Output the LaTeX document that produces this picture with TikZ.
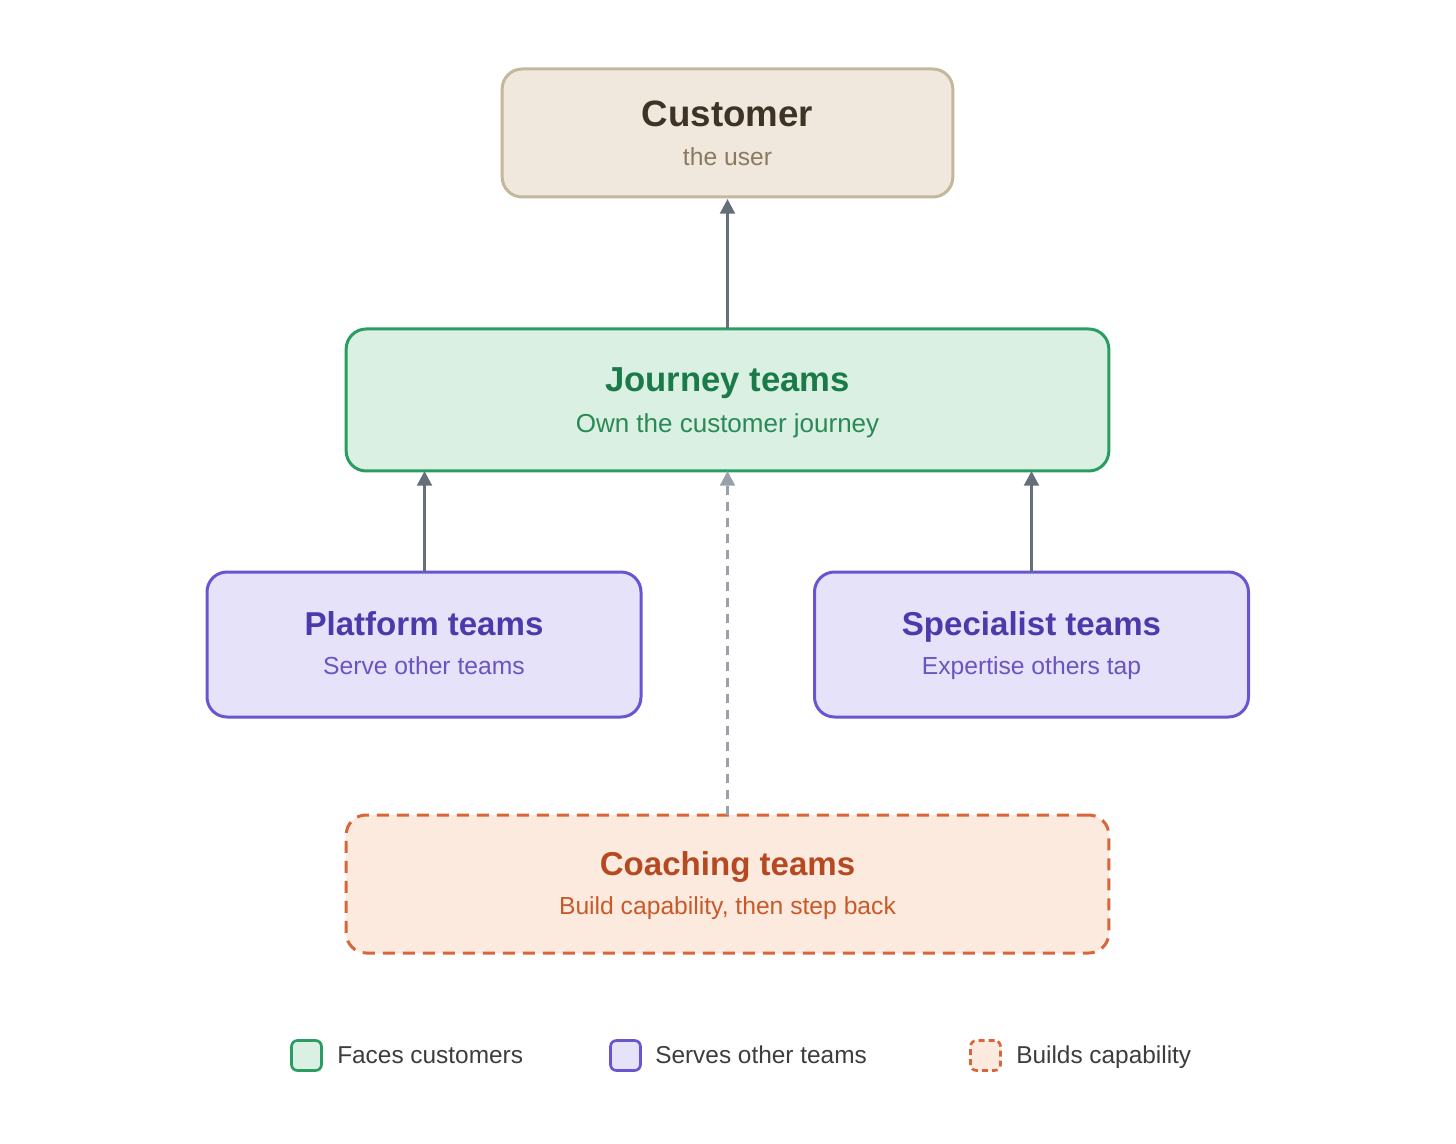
\documentclass[tikz,border=0pt]{standalone}
\usepackage{fontspec}
\setmainfont{Liberation Sans}
\usetikzlibrary{arrows.meta}
\definecolor{custfill}{HTML}{F0E8DC}
\definecolor{custdraw}{HTML}{C4B89C}
\definecolor{custtitle}{HTML}{3D3426}
\definecolor{custsub}{HTML}{8A7A62}
\definecolor{jfill}{HTML}{DAF0E2}
\definecolor{jdraw}{HTML}{2A9D63}
\definecolor{jtitle}{HTML}{1A7A48}
\definecolor{jsub}{HTML}{2A8A55}
\definecolor{pfill}{HTML}{E6E2FA}
\definecolor{pdraw}{HTML}{6A55D0}
\definecolor{ptitle}{HTML}{4A3AAA}
\definecolor{psub}{HTML}{6A55C0}
\definecolor{cfill}{HTML}{FCEADF}
\definecolor{cdraw}{HTML}{D9663A}
\definecolor{ctitle}{HTML}{B54A22}
\definecolor{csub}{HTML}{C85A2A}
\definecolor{arrowc}{HTML}{666E7A}
\definecolor{arrowl}{HTML}{9AA0A8}
\definecolor{legtext}{HTML}{3D3D3D}
\begin{document}
\begin{tikzpicture}[x=0.75pt,y=-0.75pt,
  box/.style={rectangle,rounded corners=15pt,line width=2.25pt,inner sep=0pt},
  title/.style={font=\bfseries\fontsize{24.8}{30}\selectfont,inner sep=0pt,anchor=base},
  sub/.style={font=\fontsize{18.5}{22}\selectfont,inner sep=0pt,anchor=base},
  conn/.style={line width=2.25pt,draw=arrowc,-{Triangle[length=11pt,width=11pt]}},
  connd/.style={line width=2.25pt,draw=arrowl,dash pattern=on 7pt off 5pt,-{Triangle[length=11pt,width=11pt]}},
  legbox/.style={rectangle,rounded corners=4.5pt,line width=2pt,minimum width=22.5pt,minimum height=22.5pt,inner sep=0pt},
  legt/.style={font=\fontsize{18.3}{22}\selectfont,text=legtext,anchor=base west,inner sep=0pt}
]
\useasboundingbox[fill=white] (0,0) rectangle (1456,1144);
% boxes
\node[box,fill=custfill,draw=custdraw,minimum width=338pt,minimum height=96pt] (cust) at (727.5,133) {};
\node[box,fill=jfill,draw=jdraw,minimum width=572pt,minimum height=106.5pt] (jour) at (727.5,400) {};
\node[box,fill=pfill,draw=pdraw,minimum width=325.5pt,minimum height=108.75pt] (plat) at (424,644.5) {};
\node[box,fill=pfill,draw=pdraw,minimum width=325.5pt,minimum height=108.75pt] (spec) at (1031.5,644.5) {};
\node[box,fill=cfill,draw=cdraw,dash pattern=on 9pt off 6pt,minimum width=572pt,minimum height=103.5pt] (coach) at (727.5,884) {};
% texts
\node[title,text=custtitle,font=\bfseries\fontsize{27.5}{30}\selectfont] (custT) at (727.5,127) {Customer};
\node[sub,text=custsub] (custS) at (727.5,166) {the user};
\node[title,text=jtitle,font=\bfseries\fontsize{26}{30}\selectfont] (jourT) at (727.5,392) {Journey teams};
\node[sub,text=jsub,font=\fontsize{19.5}{22}\selectfont] (jourS) at (727.5,433) {Own the customer journey};
\node[title,text=ptitle] (platT) at (424,635) {Platform teams};
\node[sub,text=psub] (platS) at (424,674) {Serve other teams};
\node[title,text=ptitle] (specT) at (1031.5,635) {Specialist teams};
\node[sub,text=psub] (specS) at (1031.5,674) {Expertise others tap};
\node[title,text=ctitle] (coachT) at (727.5,875) {Coaching teams};
\node[sub,text=csub] (coachS) at (727.5,914) {Build capability, then step back};
% connectors
\coordinate (custB) at (727.5,199);
\coordinate (jourTop) at (727.5,329);
\coordinate (jourB1) at (424.5,471);
\coordinate (jourB2) at (1031.5,471);
\coordinate (jourB3) at (727.5,471);
\coordinate (platTop) at (424.5,572);
\coordinate (specTop) at (1031.5,572);
\coordinate (coachTop) at (727.5,815);
\draw[conn] (jourTop) -- (custB);
\draw[conn] (platTop) -- (jourB1);
\draw[conn] (specTop) -- (jourB2);
\draw[connd] (coachTop) -- (jourB3);
% legend
\node[legbox,fill=jfill,draw=jdraw] (lg1) at (306.5,1055.5) {};
\node[legt] (lt1) at (337,1063) {Faces customers};
\node[legbox,fill=pfill,draw=pdraw] (lg2) at (625.5,1055.5) {};
\node[legt] (lt2) at (655,1063) {Serves other teams};
\node[legbox,fill=cfill,draw=cdraw,dash pattern=on 4.5pt off 3pt] (lg3) at (985.5,1055.5) {};
\node[legt] (lt3) at (1016,1063) {Builds capability};
\end{tikzpicture}
\end{document}
